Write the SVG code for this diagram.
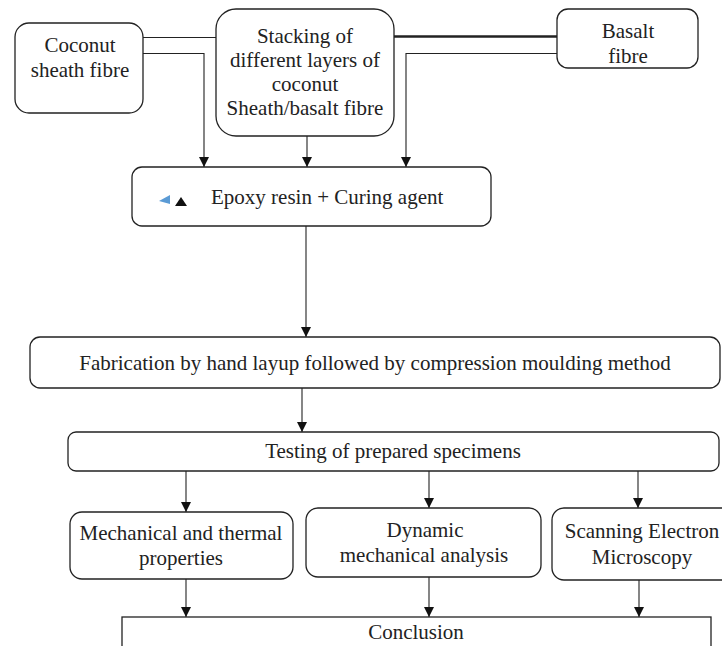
<svg xmlns="http://www.w3.org/2000/svg" width="722" height="646" viewBox="0 0 722 646">
<style>
.box{fill:#fff;stroke:#222;stroke-width:1.3}
.t{font-family:"Liberation Serif","Times New Roman",serif;font-size:21px;fill:#222;text-anchor:middle}
.c{fill:none;stroke:#222;stroke-width:1.1}
.a{marker-end:url(#ah)}
</style>
<defs>
<marker id="ah" markerUnits="userSpaceOnUse" markerWidth="12" markerHeight="12" refX="10" refY="5" orient="auto">
<path d="M0,0 L10,5 L0,10 Z" fill="#111"/>
</marker>
</defs>
<rect width="722" height="646" fill="#fff"/>
<g id="connectors">
<path class="c" d="M143,37.5 H216"/>
<path class="c a" d="M143,53.5 H204 V167"/>
<path class="c a" d="M307,136 V167"/>
<path class="c" style="stroke-width:2.4" d="M394,36.5 H557"/>
<path class="c a" d="M557,53.5 H406 V167"/>
<path class="c a" d="M306,226 V337"/>
<path class="c a" d="M302,388 V432"/>
<path class="c a" d="M186,471 V512"/>
<path class="c a" d="M429,471 V508"/>
<path class="c a" d="M638,471 V508"/>
<path class="c a" d="M186,579 V617"/>
<path class="c a" d="M429,577 V617"/>
<path class="c a" d="M639,580 V617"/>
</g>
<g id="coconut">
<rect class="box" x="15" y="23" width="128" height="90" rx="14"/>
<text class="t" x="80" y="52">Coconut</text>
<text class="t" x="80" y="77">sheath fibre</text>
</g>
<g id="stacking">
<rect class="box" x="216" y="9" width="178" height="127" rx="20"/>
<text class="t" x="305" y="43">Stacking of</text>
<text class="t" x="305" y="67">different layers of</text>
<text class="t" x="305" y="91">coconut</text>
<text class="t" x="305" y="115">Sheath/basalt fibre</text>
</g>
<g id="basalt">
<rect class="box" x="557" y="9" width="141" height="59" rx="11"/>
<text class="t" x="628" y="38">Basalt</text>
<text class="t" x="628" y="63">fibre</text>
</g>
<g id="epoxy">
<rect class="box" x="132" y="167" width="359" height="59" rx="10"/>
<polygon points="159,201 170,195 170,204" fill="#5b9bd5"/>
<polygon points="175,206 181,197 187,206" fill="#111"/>
<text class="t" x="211" y="204" style="text-anchor:start">Epoxy resin + Curing agent</text>
</g>
<g id="fabrication">
<rect class="box" x="30" y="337" width="690" height="51" rx="10"/>
<text class="t" x="375" y="370">Fabrication by hand layup followed by compression moulding method</text>
</g>
<g id="testing">
<rect class="box" x="68" y="432" width="651" height="39" rx="8"/>
<text class="t" x="393" y="458">Testing of prepared specimens</text>
</g>
<g id="mechanical">
<rect class="box" x="70" y="512" width="223" height="67" rx="12"/>
<text class="t" x="181" y="540">Mechanical and thermal</text>
<text class="t" x="181" y="565">properties</text>
</g>
<g id="dynamic">
<rect class="box" x="306" y="508" width="235" height="69" rx="12"/>
<text class="t" x="425" y="537">Dynamic</text>
<text class="t" x="424" y="562">mechanical analysis</text>
</g>
<g id="sem">
<rect class="box" x="552" y="508" width="190" height="72" rx="12"/>
<text class="t" x="642" y="538">Scanning Electron</text>
<text class="t" x="642" y="564">Microscopy</text>
</g>
<g id="conclusion">
<rect class="box" x="122" y="617" width="589" height="40"/>
<text class="t" x="416" y="639">Conclusion</text>
</g>
</svg>
